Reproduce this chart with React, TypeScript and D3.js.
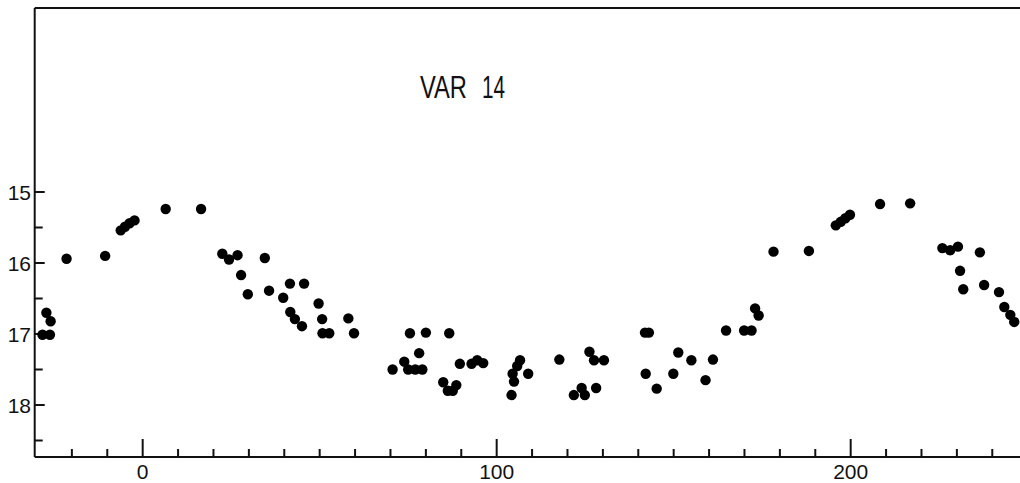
import React from "react";
import * as d3 from "d3";

// Phase / day (x) and magnitude (y)
const days: number[] = [
  -28.3, -26.2, -27.2, -26.0, -21.5, -10.6,
  -6.2, -5.0, -3.7, -2.3, 6.5, 16.5,
  22.5, 24.4, 26.8, 34.5, 27.8, 29.7, 35.7, 41.6, 45.6, 39.7, 41.7, 43.0, 45.0,
  49.7, 50.7, 50.8, 52.7, 58.1, 59.7,
  75.5, 80.0, 86.6, 70.6, 73.9, 78.1, 75.0, 77.0, 79.0,
  84.9, 86.2, 87.6, 88.6, 89.6, 92.9, 94.5, 96.2,
  104.2, 104.9, 104.5, 105.8, 106.6, 108.9,
  117.7, 126.2, 127.5, 130.3, 121.8, 124.0, 124.9, 128.1,
  141.9, 143.0, 142.1, 145.2, 149.9, 151.3, 155.0,
  161.1, 159.0, 164.8, 169.9, 172.0, 173.0, 174.0,
  178.2, 188.2, 195.8, 197.2, 198.5, 199.8,
  208.3, 216.8, 225.9, 228.1, 230.3, 236.5, 230.9, 231.8, 237.7,
  241.9, 243.4, 245.1, 246.2,
];
const mags: number[] = [
  17.01, 17.01, 16.70, 16.82, 15.94, 15.90,
  15.54, 15.49, 15.44, 15.40, 15.24, 15.24,
  15.87, 15.95, 15.89, 15.93, 16.17, 16.44, 16.39, 16.29, 16.29, 16.49, 16.69, 16.79, 16.89,
  16.57, 16.79, 16.99, 16.99, 16.78, 16.99,
  16.99, 16.98, 16.99, 17.50, 17.39, 17.27, 17.50, 17.50, 17.50,
  17.68, 17.80, 17.80, 17.72, 17.42, 17.42, 17.37, 17.41,
  17.86, 17.67, 17.56, 17.45, 17.37, 17.56,
  17.36, 17.25, 17.37, 17.37, 17.86, 17.76, 17.86, 17.76,
  16.98, 16.98, 17.56, 17.77, 17.56, 17.26, 17.37,
  17.36, 17.65, 16.95, 16.95, 16.95, 16.64, 16.74,
  15.84, 15.83, 15.47, 15.42, 15.37, 15.32,
  15.17, 15.16, 15.79, 15.82, 15.77, 15.85, 16.11, 16.37, 16.31,
  16.41, 16.62, 16.73, 16.83,
];

const yMajorTicks: number[] = [15, 16, 17, 18];
const yMinorTicks: number[] = [15.5, 16.5, 17.5, 18.5];
const xMajorTicks: number[] = [0, 100, 200];
const xMinorTicks: number[] = [-20, -10, 10, 20, 30, 40, 50, 60, 70, 80, 90, 110, 120, 130, 140, 150, 160, 170, 180, 190, 210, 220, 230, 240];
const titleWords: string[] = ["VAR", "14"];

export default function App() {
  const W = 1020, H = 483;
  const x = d3.scaleLinear().domain([-30.5, 248]).range([34.7, 1020.6]);
  const y = d3.scaleLinear().domain([15, 18]).range([192, 405]);
  const [x0] = x.range();
  const yTop = 8, yBot = 457;
  const font = "'Liberation Sans', Arial, sans-serif";

  return (
    <svg width={W} height={H} style={{ position: "absolute", left: 0, top: 0, background: "#fff" }}>
      <rect x={0} y={0} width={W} height={H} fill="#fff" />
      {/* frame */}
      <line x1={x0} y1={yTop} x2={W} y2={yTop} stroke="#111" strokeWidth={2} />
      <line x1={x0} y1={yTop} x2={x0} y2={yBot} stroke="#111" strokeWidth={2} />
      <line x1={x0} y1={yBot} x2={W} y2={yBot} stroke="#111" strokeWidth={2} />

      {/* y ticks */}
      {yMajorTicks.map((t) => (
        <g key={"ym" + t}>
          <line x1={x0} x2={x0 + 10} y1={y(t)} y2={y(t)} stroke="#111" strokeWidth={2} />
          <text x={31} y={y(t)} dy="0.36em" textAnchor="end" fontFamily={font} fontSize={21} fill="#111">{t}</text>
        </g>
      ))}
      {yMinorTicks.map((t) => (
        <line key={"yn" + t} x1={x0} x2={x0 + 8} y1={y(t)} y2={y(t)} stroke="#111" strokeWidth={2} />
      ))}

      {/* x ticks */}
      {xMajorTicks.map((t) => (
        <g key={"xm" + t}>
          <line x1={x(t)} x2={x(t)} y1={yBot} y2={yBot - 18} stroke="#111" strokeWidth={2} />
          <text x={x(t)} y={479} textAnchor="middle" fontFamily={font} fontSize={21} fill="#111">{t}</text>
        </g>
      ))}
      {xMinorTicks.map((t) => (
        <line key={"xn" + t} x1={x(t)} x2={x(t)} y1={yBot} y2={yBot - 8} stroke="#111" strokeWidth={2} />
      ))}

      {/* title */}
      <text x={420} y={98} fontFamily={font} fontSize={32} textLength={47} lengthAdjust="spacingAndGlyphs" fill="#111">{titleWords[0]}</text>
      <text x={482} y={98} fontFamily={font} fontSize={32} textLength={23} lengthAdjust="spacingAndGlyphs" fill="#111">{titleWords[1]}</text>

      {/* points */}
      {days.map((d, i) => (
        <circle key={i} cx={x(d)} cy={y(mags[i])} r={5.2} fill="#000" />
      ))}
    </svg>
  );
}
